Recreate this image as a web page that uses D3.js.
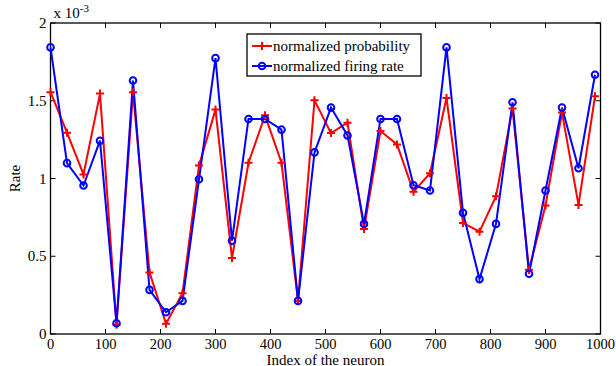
<!DOCTYPE html>
<html><head><meta charset="utf-8">
<script src="https://cdn.jsdelivr.net/npm/d3@7"></script>
<style>body{margin:0;background:#fff}svg{display:block}text{font-family:"Liberation Serif","Times New Roman",serif;fill:#000}</style>
</head><body><svg id="c" width="616" height="366"></svg>
<script>
const neuronIndex = [0,30,60,90,120,150,180,210,240,270,300,330,360,390,420,450,480,510,540,570,600,630,660,690,720,750,780,810,840,870,900,930,960,990];
const probability = [1.555,1.295,1.026,1.546,0.06,1.555,0.396,0.066,0.262,1.084,1.443,0.488,1.101,1.406,1.101,0.213,1.503,1.292,1.359,0.675,1.305,1.219,0.914,1.034,1.518,0.714,0.658,0.886,1.450,0.413,0.826,1.424,0.830,1.529];
const firingRate = [1.843,1.099,0.955,1.243,0.069,1.630,0.284,0.140,0.213,0.995,1.774,0.600,1.383,1.383,1.314,0.213,1.168,1.456,1.277,0.708,1.383,1.383,0.957,0.923,1.843,0.779,0.353,0.708,1.490,0.387,0.923,1.456,1.066,1.667];
const xTicks = [0,100,200,300,400,500,600,700,800,900,1000];
const yTicks = [0,0.5,1,1.5,2];
const yTickLabels = ["0","0.5","1","1.5","2"];
const seriesNames = ["normalized probability","normalized firing rate"];

const svg = d3.select("#c");
const L=50.5, R=600.5, T=23, B=334;
const x = d3.scaleLinear().domain([0,1000]).range([L,R]);
const y = d3.scaleLinear().domain([0,2]).range([B,T]);

svg.append("rect").attr("x",L).attr("y",T).attr("width",R-L).attr("height",B-T)
  .attr("fill","none").attr("stroke","#000").attr("stroke-width",1.3);

const tl=5;
const g = svg.append("g");
xTicks.forEach(t=>{
  g.append("line").attr("x1",x(t)).attr("x2",x(t)).attr("y1",B).attr("y2",B-tl).attr("stroke","#000");
  g.append("line").attr("x1",x(t)).attr("x2",x(t)).attr("y1",T).attr("y2",T+tl).attr("stroke","#000");
  g.append("text").attr("x",x(t)).attr("y",B+15).attr("text-anchor","middle").attr("font-size",14.5).text(t);
});
yTicks.forEach((t,i)=>{
  g.append("line").attr("x1",L).attr("x2",L+tl).attr("y1",y(t)).attr("y2",y(t)).attr("stroke","#000");
  g.append("line").attr("x1",R).attr("x2",R-tl).attr("y1",y(t)).attr("y2",y(t)).attr("stroke","#000");
  g.append("text").attr("x",L-4).attr("y",y(t)+5).attr("text-anchor","end").attr("font-size",15).text(yTickLabels[i]);
});
const ex = svg.append("text").attr("x",L+3).attr("y",T-5).attr("font-size",15);
ex.append("tspan").text("x 10");
ex.append("tspan").attr("dy",-6).attr("font-size",11).text("-3");

svg.append("text").attr("x",(L+R)/2).attr("y",364.5).attr("text-anchor","middle").attr("font-size",15).text("Index of the neuron");
svg.append("text").attr("transform","translate(20,"+((T+B)/2)+") rotate(-90)").attr("text-anchor","middle").attr("font-size",15).text("Rate");

const line = d3.line().x((d,i)=>x(neuronIndex[i])).y(d=>y(d));
const pg = svg.append("g");
pg.append("path").datum(probability).attr("d",line).attr("fill","none").attr("stroke","#ff0000").attr("stroke-width",2);
pg.append("path").datum(firingRate).attr("d",line).attr("fill","none").attr("stroke","#0000ff").attr("stroke-width",2);
const ps=4;
probability.forEach((v,i)=>{
  const cx=x(neuronIndex[i]), cy=y(v);
  pg.append("path").attr("d",`M${cx-ps},${cy}H${cx+ps}M${cx},${cy-ps}V${cy+ps}`).attr("stroke","#ff0000").attr("stroke-width",2);
});
firingRate.forEach((v,i)=>{
  pg.append("circle").attr("cx",x(neuronIndex[i])).attr("cy",y(v)).attr("r",3.3).attr("fill","none").attr("stroke","#0000ff").attr("stroke-width",2);
});

const lg = svg.append("g");
lg.append("rect").attr("x",247).attr("y",34).attr("width",174).attr("height",42).attr("fill","#fff").attr("stroke","#000").attr("stroke-width",1.3);
const cols=["#ff0000","#0000ff"];
[0,1].forEach(i=>{
  const yy=46+i*20;
  lg.append("line").attr("x1",252).attr("x2",272).attr("y1",yy).attr("y2",yy).attr("stroke",cols[i]).attr("stroke-width",2);
  if(i===0) lg.append("path").attr("d",`M${262-ps},${yy}H${262+ps}M262,${yy-ps}V${yy+ps}`).attr("stroke",cols[i]).attr("stroke-width",2);
  else lg.append("circle").attr("cx",262).attr("cy",yy).attr("r",3.3).attr("fill","none").attr("stroke",cols[i]).attr("stroke-width",2);
  lg.append("text").attr("x",273).attr("y",yy+5).attr("font-size",15).text(seriesNames[i]);
});
</script></body></html>
